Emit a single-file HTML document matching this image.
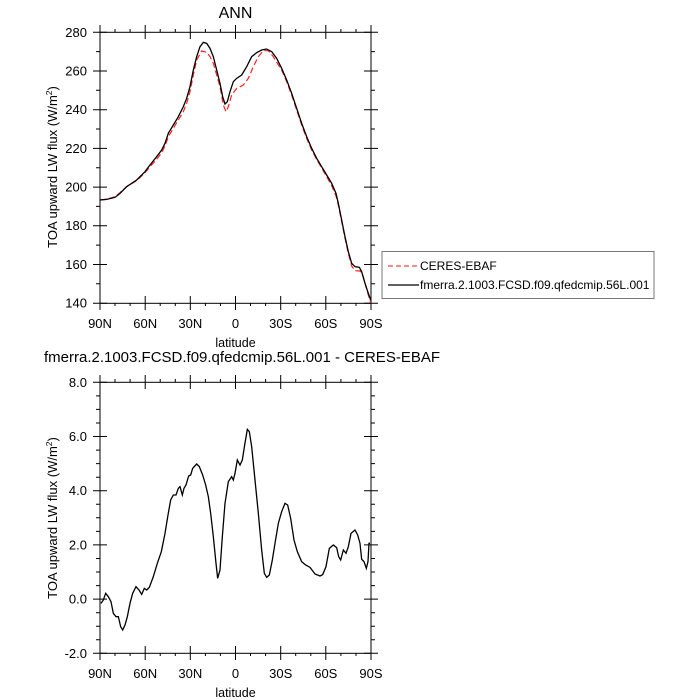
<!DOCTYPE html>
<html><head><style>
html,body{margin:0;padding:0;background:#fff;}
svg{display:block;font-family:"Liberation Sans",sans-serif;}
</style></head><body>
<svg width="700" height="700" viewBox="0 0 700 700" xmlns="http://www.w3.org/2000/svg">
<rect width="700" height="700" fill="#fff"/>
<text x="235.5" y="18" font-size="16" text-anchor="middle">ANN</text>
<text x="242" y="362" font-size="15" text-anchor="middle">fmerra.2.1003.FCSD.f09.qfedcmip.56L.001 - CERES-EBAF</text>

<g id="top" stroke="#000" stroke-width="1" fill="none">
<rect x="100" y="32.3" width="271" height="271"/>
</g>
<g stroke="#000" stroke-width="1">
<path d="M100 25V39M145.2 25V39M190.3 25V39M235.5 25V39M280.7 25V39M325.8 25V39M371 25V39
M100 296V310M145.2 296V310M190.3 296V310M235.5 296V310M280.7 296V310M325.8 296V310M371 296V310
M115 29V32M130.1 29V32M160.2 29V32M175.3 29V32M205.4 29V32M220.4 29V32M250.5 29V32M265.6 29V32M295.7 29V32M310.8 29V32M340.9 29V32M356 29V32
M115 303V306M130.1 303V306M160.2 303V306M175.3 303V306M205.4 303V306M220.4 303V306M250.5 303V306M265.6 303V306M295.7 303V306M310.8 303V306M340.9 303V306M356 303V306
M93 32.3H107M93 71H107M93 109.7H107M93 148.4H107M93 187.1H107M93 225.8H107M93 264.5H107M93 303.2H107
M364 32.3H378M364 71H378M364 109.7H378M364 148.4H378M364 187.1H378M364 225.8H378M364 264.5H378M364 303.2H378
M96 51.6H100M96 90.3H100M96 129H100M96 167.7H100M96 206.4H100M96 245.1H100M96 283.8H100
M371 51.6H375M371 90.3H375M371 129H375M371 167.7H375M371 206.4H375M371 245.1H375M371 283.8H375"/>
</g>
<g font-size="13" text-anchor="end">
<text x="87" y="37">280</text><text x="87" y="75.5">260</text><text x="87" y="114">240</text><text x="87" y="153">220</text><text x="87" y="191.5">200</text><text x="87" y="230">180</text><text x="87" y="269">160</text><text x="87" y="307.5">140</text>
</g>
<g font-size="13" text-anchor="middle">
<text x="100" y="328">90N</text><text x="145.2" y="328">60N</text><text x="190.3" y="328">30N</text><text x="235.5" y="328">0</text><text x="280.7" y="328">30S</text><text x="325.8" y="328">60S</text><text x="371" y="328">90S</text>
<text x="235.5" y="347" font-size="12.5">latitude</text>
</g>
<text transform="translate(57,167) rotate(-90)" font-size="13" text-anchor="middle">TOA upward LW flux (W/m<tspan font-size="8.5" dy="-5">2</tspan><tspan dy="5">)</tspan></text>

<g transform="translate(40,20) scale(0.33333)" fill="none">
<polyline vector-effect="non-scaling-stroke" stroke="#ff2020" stroke-width="1.2" stroke-dasharray="6,3" points="180,540 200,538 225,530 240,518 260,500 290,482 315,458 330,440 350,418 365,398 375,378 385,350 400,325 415,300 430,275 440,250 450,215 460,165 470,120 485,93 500,97 510,110 520,130 530,165 540,200 550,255 558,275 565,260 575,225 590,205 610,195 625,175 640,140 655,110 670,92 685,92 700,110 712,130 725,150 740,185 755,225 770,270 785,315 800,355 815,390 830,418 845,444 860,470 875,497 888,528 895,555 905,605 915,655 925,700 935,738 945,752 960,753 968,765 978,800 985,825 992,848"/>
<polyline vector-effect="non-scaling-stroke" stroke="#000" stroke-width="1.3" points="180,540 200,538 225,532 240,520 260,500 290,480 315,455 330,435 350,410 365,390 375,370 385,340 400,315 415,290 430,260 440,235 450,200 460,150 470,110 480,80 490,67 500,70 510,85 520,110 530,150 540,190 548,230 555,252 562,245 570,215 580,185 590,175 605,165 620,140 635,110 650,98 665,90 680,87 695,95 710,115 725,145 740,180 755,220 770,265 785,310 800,350 815,385 830,415 845,440 860,465 875,490 888,520 895,550 905,600 915,650 925,695 935,730 945,740 958,742 965,755 975,790 985,820 992,840"/>
</g>

<rect x="382" y="251.5" width="272" height="47" fill="none" stroke="#777" stroke-width="1"/>
<line x1="388" y1="266" x2="419" y2="266" stroke="#ff4040" stroke-width="1.2" stroke-dasharray="5,3"/>
<line x1="388" y1="285" x2="419" y2="285" stroke="#000" stroke-width="1.2"/>
<text x="420" y="270" font-size="12">CERES-EBAF</text>
<text x="420" y="289" font-size="12">fmerra.2.1003.FCSD.f09.qfedcmip.56L.001</text>

<rect x="100" y="382.3" width="271" height="271" fill="none" stroke="#000" stroke-width="1"/>
<g stroke="#000" stroke-width="1">
<path d="M100 375V389M145.2 375V389M190.3 375V389M235.5 375V389M280.7 375V389M325.8 375V389M371 375V389
M100 646V660M145.2 646V660M190.3 646V660M235.5 646V660M280.7 646V660M325.8 646V660M371 646V660
M115 379V382M130.1 379V382M160.2 379V382M175.3 379V382M205.4 379V382M220.4 379V382M250.5 379V382M265.6 379V382M295.7 379V382M310.8 379V382M340.9 379V382M356 379V382
M115 653V656M130.1 653V656M160.2 653V656M175.3 653V656M205.4 653V656M220.4 653V656M250.5 653V656M265.6 653V656M295.7 653V656M310.8 653V656M340.9 653V656M356 653V656
M93 382.3H107M93 436.5H107M93 490.7H107M93 544.9H107M93 599.1H107M93 653.3H107
M364 382.3H378M364 436.5H378M364 490.7H378M364 544.9H378M364 599.1H378M364 653.3H378
M96 395.9H100M96 409.4H100M96 423H100M96 450.1H100M96 463.6H100M96 477.2H100M96 504.3H100M96 517.8H100M96 531.4H100M96 558.5H100M96 572H100M96 585.6H100M96 612.7H100M96 626.2H100M96 639.8H100
M371 395.9H375M371 409.4H375M371 423H375M371 450.1H375M371 463.6H375M371 477.2H375M371 504.3H375M371 517.8H375M371 531.4H375M371 558.5H375M371 572H375M371 585.6H375M371 612.7H375M371 626.2H375M371 639.8H375"/>
</g>
<g font-size="13" text-anchor="end">
<text x="87" y="387">8.0</text><text x="87" y="441">6.0</text><text x="87" y="495">4.0</text><text x="87" y="549.5">2.0</text><text x="87" y="603.5">0.0</text><text x="87" y="658">-2.0</text>
</g>
<g font-size="13" text-anchor="middle">
<text x="100" y="678">90N</text><text x="145.2" y="678">60N</text><text x="190.3" y="678">30N</text><text x="235.5" y="678">0</text><text x="280.7" y="678">30S</text><text x="325.8" y="678">60S</text><text x="371" y="678">90S</text>
<text x="235.5" y="697" font-size="12.5">latitude</text>
</g>
<text transform="translate(57,518) rotate(-90)" font-size="13" text-anchor="middle">TOA upward LW flux (W/m<tspan font-size="8.5" dy="-5">2</tspan><tspan dy="5">)</tspan></text>
<g transform="translate(40,370) scale(0.33333)" fill="none">
<polyline vector-effect="non-scaling-stroke" stroke="#000" stroke-width="1.3" points="183,700 190,690 197,670 205,680 213,695 220,730 228,740 235,740 242,770 248,780 255,765 262,740 270,700 278,670 288,650 297,660 305,673 313,655 320,660 328,652 340,620 352,580 364,545 375,490 384,435 392,390 400,375 408,375 415,355 420,350 427,375 432,355 438,345 446,318 452,315 458,295 470,282 478,290 488,315 497,345 505,380 512,430 520,500 528,580 533,625 540,600 547,500 555,400 565,335 575,320 580,330 585,310 592,270 600,285 607,270 614,225 622,178 628,185 635,230 645,330 655,430 665,540 673,610 680,622 688,615 697,570 705,520 715,460 725,425 735,400 743,405 752,445 762,510 772,545 785,575 797,585 810,592 825,612 840,618 848,614 858,590 868,535 880,525 890,533 896,560 902,570 910,540 918,550 925,530 933,490 945,480 953,495 960,520 965,568 972,575 979,595 984,575 987,520 990,520"/>
</g>
</svg>
</body></html>
